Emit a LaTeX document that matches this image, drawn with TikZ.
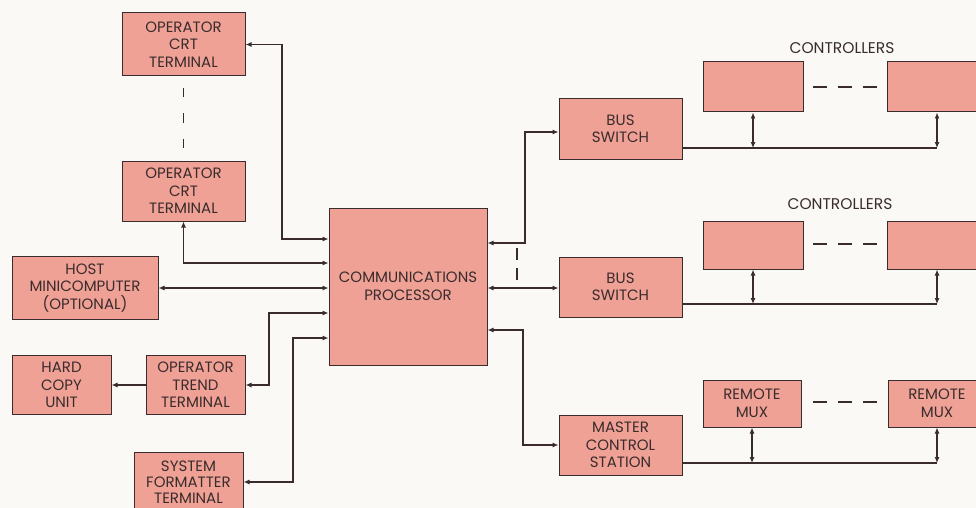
\documentclass[tikz,border=0pt]{standalone}
\usepackage{fontspec}
\setmainfont{Poppins}
\usetikzlibrary{arrows.meta}
\definecolor{boxc}{HTML}{EFA196}
\definecolor{linec}{HTML}{3A2C2C}
\definecolor{paper}{HTML}{FAF9F5}
\tikzset{
  box/.style={draw=linec, fill=boxc, line width=1pt, align=center, inner sep=0pt,
    text=linec, font=\fontsize{15}{17.5}\selectfont},
  conn/.style={draw=linec, line width=1.1pt, >={Latex[length=6pt,width=5pt]}},
  dashline/.style={draw=linec, line width=1.1pt},
  lbl/.style={text=linec, font=\fontsize{15.5}{17}\selectfont}
}
\begin{document}
\begin{tikzpicture}[x=1pt,y=-1pt]
\useasboundingbox (0,0) rectangle (976,508);
\clip (0,0) rectangle (976,508);
\fill[paper] (0,0) rectangle (976,508);
% left column
\node[box, minimum width=123, minimum height=63] (crt1) at (183.5,44.5) {OPERATOR\\CRT\\TERMINAL};
\node[box, minimum width=123, minimum height=60] (crt2) at (183.5,191) {OPERATOR\\CRT\\TERMINAL};
\node[box, minimum width=146, minimum height=63] (host) at (85,288) {HOST\\MINICOMPUTER\\(OPTIONAL)};
\node[box, minimum width=99, minimum height=59] (trend) at (195.5,385) {OPERATOR\\TREND\\TERMINAL};
\node[box, minimum width=99, minimum height=59] (hard) at (61.5,385) {HARD\\COPY\\UNIT};
\node[box, minimum width=109, minimum height=60, font=\fontsize{15}{16}\selectfont] (sysf) at (188.5,482) {SYSTEM\\FORMATTER\\TERMINAL};
% centre
\node[box, minimum width=158, minimum height=157] (cp) at (408,286.5) {COMMUNICATIONS\\PROCESSOR};
% right
\node[box, minimum width=123, minimum height=60] (bs1) at (620.5,129) {BUS\\SWITCH};
\node[box, minimum width=123, minimum height=60] (bs2) at (620.5,287) {BUS\\SWITCH};
\node[box, minimum width=123, minimum height=60] (mcs) at (620.5,445) {MASTER\\CONTROL\\STATION};
\node[box, minimum width=100, minimum height=50] (c11) at (753,87) {};
\node[box, minimum width=100, minimum height=50] (c12) at (937,87) {};
\node[box, minimum width=100, minimum height=48] (c21) at (753,245) {};
\node[box, minimum width=100, minimum height=48] (c22) at (937,245) {};
\node[box, minimum width=98, minimum height=47] (rm1) at (752,403.5) {REMOTE\\MUX};
\node[box, minimum width=98, minimum height=47] (rm2) at (937,403.5) {REMOTE\\MUX};
\node[lbl] (lc1) at (842,48) {CONTROLLERS};
\node[lbl] (lc2) at (840,204) {CONTROLLERS};
% connectors left
\draw[conn,<->] (crt1.east) -| (282,239) -- (cp.west |- 0,239);
\draw[conn,<->] (crt2.south) |- (cp.west |- 0,263);
\draw[conn,<->] (host.east) -- (cp.west |- host.east);
\draw[conn,<->] (trend.east) -| (269,313) -- (cp.west |- 0,313);
\draw[conn,->] (trend.west) -- (hard.east);
\draw[conn,<->] (sysf.east) -| (293,338) -- (cp.west |- 0,338);
\draw[dashline, dash pattern=on 9pt off 16pt] (crt1.south) ++(0,12) -- (crt2.north);
% connectors right
\draw[conn,<->] (cp.east |- 0,243) -| (525,132) -- (bs1.west |- 0,132);
\draw[conn,<->] (cp.east |- 0,288) -- (bs2.west |- 0,288);
\draw[conn,<->] (cp.east |- 0,330) -| (523,445) -- (mcs.west);
\draw[dashline, dash pattern=on 12pt off 8pt] (517,248) -- (517,285);
% buses
\draw[conn] (bs1.east |- 0,148) -- (937,148);
\draw[conn,<->] (c11.south) -- (c11.south |- 0,148);
\draw[conn,<->] (c12.south) -- (c12.south |- 0,148);
\draw[dashline, dash pattern=on 14pt off 11pt] (813,87) -- (880,87);
\draw[conn] (bs2.east |- 0,304) -- (937,304);
\draw[conn,<->] (c21.south) -- (c21.south |- 0,304);
\draw[conn,<->] (c22.south) -- (c22.south |- 0,304);
\draw[dashline, dash pattern=on 14pt off 11pt] (813,244) -- (880,244);
\draw[conn] (mcs.east |- 0,463) -- (937,463);
\draw[conn,<->] (rm1.south) -- (rm1.south |- 0,463);
\draw[conn,<->] (rm2.south) -- (rm2.south |- 0,463);
\draw[dashline, dash pattern=on 14pt off 11pt] (813,402) -- (880,402);
\end{tikzpicture}
\end{document}
